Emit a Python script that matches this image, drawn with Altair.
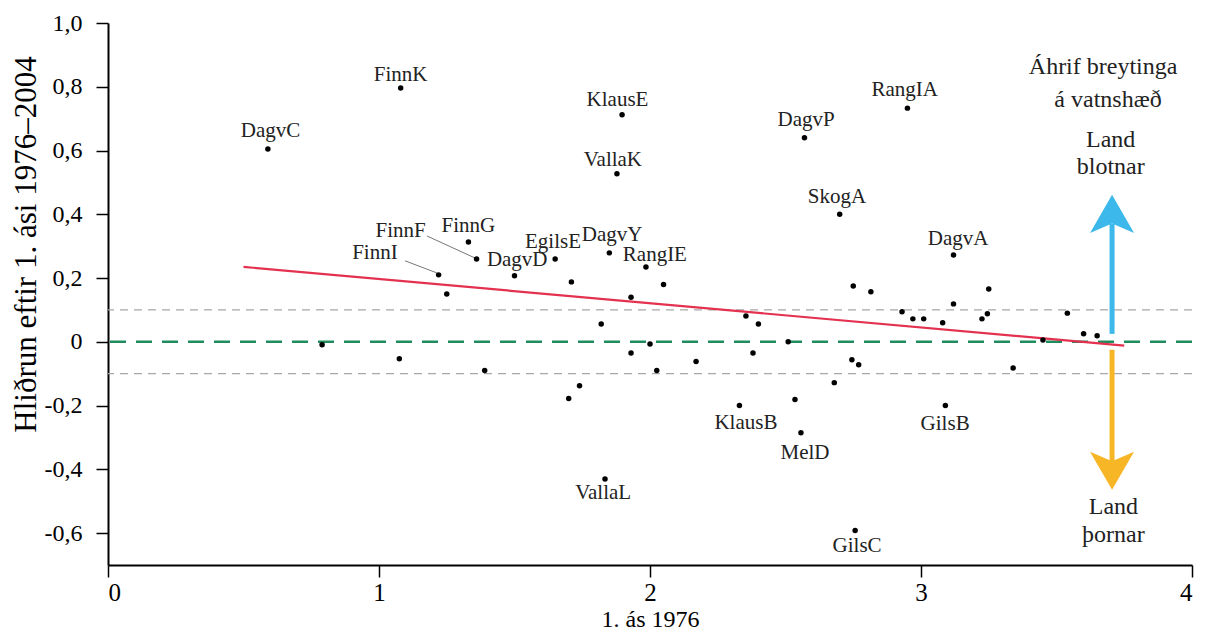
import altair as alt
import pandas as pd

# scatter points (1. ás 1976, Hliðrun)
pt_x = [0.59, 1.08, 1.22, 1.25, 1.36, 1.33, 1.50, 1.65, 1.71, 1.85, 1.985, 2.05, 1.93, 1.897, 1.878,
        2.95, 2.57, 2.70, 3.12, 2.75, 2.815, 2.93, 2.97, 3.01, 3.08, 3.12, 3.25, 3.225, 3.245, 3.54,
        3.45, 3.60, 3.65, 2.51, 2.40, 2.354, 1.82, 2.0, 1.93, 2.38, 2.17, 2.025, 2.745, 2.77, 2.68,
        1.74, 1.70, 2.535, 2.33, 2.557, 1.834, 2.757, 3.34, 3.09, 0.79, 1.075, 1.39]
pt_y = [0.605, 0.796, 0.21, 0.15, 0.26, 0.313, 0.207, 0.26, 0.188, 0.279, 0.235, 0.18, 0.14, 0.712, 0.527,
        0.733, 0.64, 0.40, 0.272, 0.175, 0.157, 0.094, 0.072, 0.072, 0.06, 0.119, 0.166, 0.072, 0.088, 0.09,
        0.006, 0.025, 0.019, 0.0, 0.056, 0.081, 0.056, -0.007, -0.035, -0.035, -0.062, -0.09, -0.056, -0.072, -0.128,
        -0.138, -0.178, -0.181, -0.20, -0.285, -0.43, -0.592, -0.082, -0.20, -0.009, -0.053, -0.09]

# point labels
lab_text = ["DagvC", "FinnK", "KlausE", "VallaK", "DagvP", "RangIA", "SkogA", "DagvA", "FinnF", "FinnG",
            "FinnI", "DagvD", "EgilsE", "DagvY", "RangIE", "KlausB", "MelD", "VallaL", "GilsC", "GilsB"]
lab_x = [0.60, 1.08, 1.88, 1.863, 2.576, 2.94, 2.69, 3.137, 1.08, 1.33,
         0.985, 1.51, 1.642, 1.86, 2.018, 2.354, 2.572, 1.827, 2.764, 3.089]
lab_y = [0.661, 0.837, 0.759, 0.571, 0.696, 0.79, 0.455, 0.323, 0.348, 0.364,
         0.279, 0.256, 0.314, 0.335, 0.273, -0.254, -0.348, -0.473, -0.64, -0.257]

# leader lines (FinnF, FinnI)
lead_x = [1.177, 1.096]
lead_y = [0.332, 0.254]
lead_x2 = [1.354, 1.214]
lead_y2 = [0.263, 0.216]

# regression line
fit_x = [0.5, 3.75]
fit_y = [0.235, -0.012]

# reference lines
grey_y = [0.1, -0.1]
green_y = [0.0]

# arrows
arrow_x = [3.705, 3.705]
shaft_y1 = [0.025, -0.025]
shaft_y2 = [0.37, -0.40]
head_y = [0.461, -0.464]
arrow_col = ["#3db8ea", "#f6b626"]

# annotation text
note_text = ["Áhrif breytinga", "á vatnshæð", "Land", "blotnar", "Land", "þornar"]
note_x = [3.672, 3.69, 3.70, 3.70, 3.71, 3.71]
note_y = [0.862, 0.759, 0.633, 0.549, -0.517, -0.605]

FONT = "Liberation Serif"

X = alt.X("x:Q", scale=alt.Scale(domain=[0, 4], nice=False, zero=False),
          axis=alt.Axis(values=[0, 1, 2, 3, 4], format="d", title="1. ás 1976", grid=False,
                        domainColor="black", domainWidth=2, tickColor="black", tickWidth=1.5,
                        tickSize=12, labelFont=FONT, labelFontSize=25, labelColor="black",
                        labelPadding=3, titleFont=FONT, titleFontSize=24, titleFontWeight="normal",
                        titleColor="black", titleY=61, titleBaseline="alphabetic"))
Y = alt.Y("y:Q", scale=alt.Scale(domain=[-0.7, 1.0], nice=False, zero=False),
          axis=alt.Axis(values=[-0.6, -0.4, -0.2, 0, 0.2, 0.4, 0.6, 0.8, 1.0],
                        labelExpr="datum.value == 0 ? '0' : replace(replace(format(datum.value, '.1f'), '.', ','), '\u2212', '-')",
                        title="Hliðrun eftir 1. ási 1976–2004", grid=False,
                        domainColor="black", domainWidth=2, tickColor="black", tickWidth=1.5,
                        tickSize=12, labelFont=FONT, labelFontSize=24, labelColor="black",
                        labelPadding=14, titleFont=FONT, titleFontSize=31, titleFontWeight="normal",
                        titleColor="black", titleX=-73, titleY=221, titleBaseline="alphabetic"))

df_pts = pd.DataFrame({"x": pt_x, "y": pt_y})
df_lab = pd.DataFrame({"x": lab_x, "y": lab_y, "t": lab_text})
df_lead = pd.DataFrame({"x": lead_x, "y": lead_y, "x2": lead_x2, "y2": lead_y2})
df_fit = pd.DataFrame({"x": fit_x, "y": fit_y})
df_grey = pd.DataFrame({"y": grey_y})
df_green = pd.DataFrame({"y": green_y})
df_shaft = pd.DataFrame({"x": arrow_x, "y": shaft_y1, "y2": shaft_y2, "c": arrow_col})
df_up = pd.DataFrame({"x": arrow_x[:1], "y": head_y[:1], "c": arrow_col[:1]})
df_dn = pd.DataFrame({"x": arrow_x[1:], "y": head_y[1:], "c": arrow_col[1:]})
df_note = pd.DataFrame({"x": note_x, "y": note_y, "t": note_text})

grey = alt.Chart(df_grey).mark_rule(color="#a8a8a8", strokeWidth=1.3, strokeDash=[8, 6]).encode(y=Y)
green = alt.Chart(df_green).mark_rule(color="#1e8c5c", strokeWidth=2.5, strokeDash=[16, 10]).encode(y=Y)
fit = alt.Chart(df_fit).mark_line(color="#e3314f", strokeWidth=2.2).encode(x=X, y=Y)
lead = alt.Chart(df_lead).mark_rule(color="#777777", strokeWidth=1).encode(x=X, y=Y, x2="x2:Q", y2="y2:Q")
pts = alt.Chart(df_pts).mark_circle(color="black", size=30, opacity=1).encode(x=X, y=Y)
labs = alt.Chart(df_lab).mark_text(font=FONT, fontSize=21, color="#222222", align="center",
                                    baseline="middle").encode(x=X, y=Y, text="t:N")
shaft = alt.Chart(df_shaft).mark_rule(strokeWidth=5).encode(
    x=X, y=Y, y2="y2:Q", color=alt.Color("c:N", scale=None))
up = alt.Chart(df_up).mark_point(shape="M0,0 L1,1.73 L0,1.3 L-1,1.73 Z", size=1936, filled=True,
                                  opacity=1).encode(x=X, y=Y, color=alt.Color("c:N", scale=None))
dn = alt.Chart(df_dn).mark_point(shape="M0,0 L1,-1.73 L0,-1.3 L-1,-1.73 Z", size=1936, filled=True,
                                  opacity=1).encode(x=X, y=Y, color=alt.Color("c:N", scale=None))
notes = alt.Chart(df_note).mark_text(font=FONT, fontSize=24, color="#222222", align="center",
                                      baseline="middle").encode(x=X, y=Y, text="t:N")

chart = alt.layer(grey, green, fit, lead, shaft, up, dn, pts, labs, notes).properties(
    width=1084, height=542,
    padding={"left": 100, "top": 15, "right": 5, "bottom": 66},
    autosize=alt.AutoSizeParams(type="none"),
    background="white",
).configure(font=FONT).configure_axis(labelFont=FONT, titleFont=FONT).configure_view(stroke=None)

chart.save("out.html", embed_options={"renderer": "svg", "actions": False})
